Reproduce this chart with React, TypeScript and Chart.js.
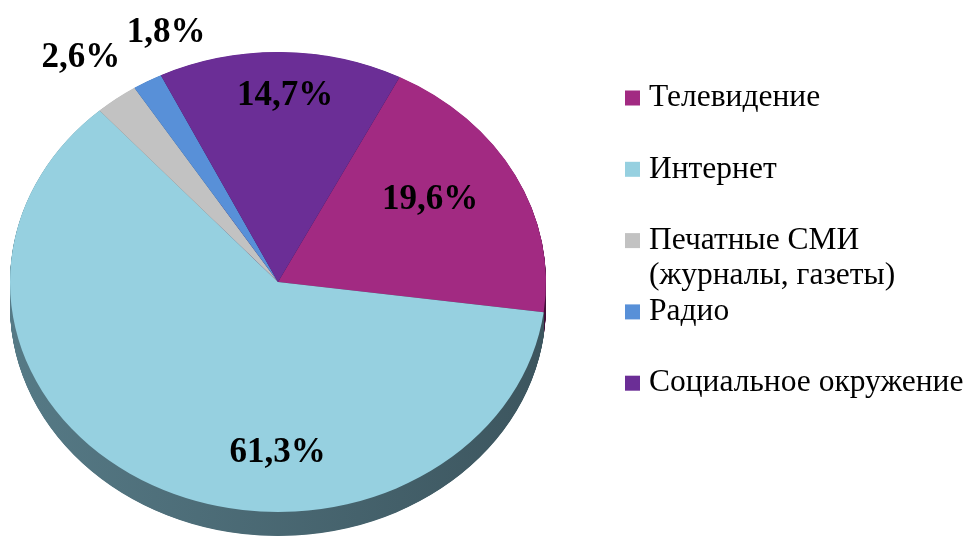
import React, { useEffect, useRef } from 'react';
import { Chart, registerables } from 'chart.js';

Chart.register(...registerables);

// ---- data ----
const categories = ['Телевидение', 'Интернет', 'Печатные СМИ\n(журналы, газеты)', 'Радио', 'Социальное окружение'];
const shares = [19.6, 61.3, 2.6, 1.8, 14.7];
const faceColors = ['#A22A82', '#96D0E0', '#C2C2C2', '#5890D8', '#6B2E96'];
const sideColors = ['#5E1650', '#567A86', '#7C7C7C', '#2E5A90', '#3E1A5A'];

// ---- styling / layout ----
const W = 971;
const H = 541;
const PIE = { cy: 282, ry: 230, depth: 24, rotation: 27 };
const labelPlacement = [
  { f: 0.7, dx: -14, dy: -7 },
  { f: 0.8, dx: 100, dy: 8 },
  { f: 1.22, dx: 0, dy: 0 },
  { f: 1.24, dx: 50, dy: 0 },
  { f: 0.81, dx: 5, dy: 0 },
];
const LEGEND = { boxX: 625, boxSize: 15, textX: 649, firstY: 98, pitch: 71.3, lineH: 35, font: "31.5px 'Liberation Serif'" };
const LABEL_FONT = "bold 35px 'Liberation Serif'";

const fmt = (v: number) => v.toFixed(1).replace('.', ',') + '%';

const pie3d = {
  id: 'pie3d',
  beforeDatasetsDraw(chart: any) {
    const ctx = chart.ctx as CanvasRenderingContext2D;
    const meta = chart.getDatasetMeta(0);
    const a0 = meta.data[0].getProps(['x', 'y', 'outerRadius'], true);
    const k = PIE.ry / a0.outerRadius;
    ctx.save();
    ctx.translate(0, PIE.cy);
    ctx.scale(1, k);
    ctx.translate(0, -a0.y);
    const dC = PIE.depth / k;
    meta.data.forEach((arc: any, i: number) => {
      const p = arc.getProps(['x', 'y', 'startAngle', 'endAngle', 'outerRadius'], true);
      const g = ctx.createLinearGradient(p.x - p.outerRadius, 0, p.x + p.outerRadius, 0);
      g.addColorStop(0, sideColors[i]);
      g.addColorStop(1, shade(sideColors[i], 0.7));
      ctx.fillStyle = g;
      for (let d = dC; d > 0; d -= 0.5) {
        ctx.beginPath();
        ctx.moveTo(p.x, p.y + d);
        ctx.arc(p.x, p.y + d, p.outerRadius, p.startAngle, p.endAngle);
        ctx.closePath();
        ctx.fill();
      }
    });
  },
  afterDatasetsDraw(chart: any) {
    const ctx = chart.ctx as CanvasRenderingContext2D;
    ctx.restore();
    const meta = chart.getDatasetMeta(0);
    const a0 = meta.data[0].getProps(['x', 'y', 'outerRadius'], true);
    const k = PIE.ry / a0.outerRadius;
    ctx.save();
    ctx.font = LABEL_FONT;
    ctx.fillStyle = '#000';
    ctx.textAlign = 'center';
    ctx.textBaseline = 'middle';
    meta.data.forEach((arc: any, i: number) => {
      const p = arc.getProps(['x', 'y', 'startAngle', 'endAngle', 'outerRadius'], true);
      const mid = (p.startAngle + p.endAngle) / 2;
      const lp = labelPlacement[i];
      const x = p.x + Math.cos(mid) * p.outerRadius * lp.f + lp.dx;
      const y = PIE.cy + Math.sin(mid) * p.outerRadius * k * lp.f + lp.dy;
      ctx.fillText(fmt(shares[i]), x, y);
    });
    // legend
    ctx.font = LEGEND.font;
    ctx.textAlign = 'left';
    categories.forEach((c, i) => {
      const cyI = LEGEND.firstY + i * LEGEND.pitch;
      ctx.fillStyle = faceColors[i];
      ctx.fillRect(LEGEND.boxX, cyI - LEGEND.boxSize / 2, LEGEND.boxSize, LEGEND.boxSize);
      ctx.fillStyle = '#000';
      c.split('\n').forEach((line, j) => {
        ctx.fillText(line, LEGEND.textX, cyI + j * LEGEND.lineH);
      });
    });
    ctx.restore();
  },
};

function shade(hex: string, f: number) {
  const n = parseInt(hex.slice(1), 16);
  const r = Math.round(((n >> 16) & 255) * f);
  const g = Math.round(((n >> 8) & 255) * f);
  const b = Math.round((n & 255) * f);
  return `rgb(${r},${g},${b})`;
}

export default function App() {
  const ref = useRef<HTMLCanvasElement>(null);
  useEffect(() => {
    if (!ref.current) return;
    const chart = new Chart(ref.current, {
      type: 'pie',
      data: {
        labels: categories,
        datasets: [
          {
            data: shares,
            backgroundColor: faceColors,
            borderWidth: 0,
            clip: false,
          } as any,
        ],
      },
      options: {
        responsive: false,
        animation: false,
        rotation: PIE.rotation,
        layout: { padding: { left: 10, right: 425, top: 2, bottom: 3 } },
        plugins: { legend: { display: false }, tooltip: { enabled: false } },
      },
      plugins: [pie3d],
    });
    return () => chart.destroy();
  }, []);
  return (
    <div style={{ position: 'absolute', left: 0, top: 0, width: W, height: H, background: '#fff' }}>
      <canvas ref={ref} width={W} height={H} />
    </div>
  );
}
